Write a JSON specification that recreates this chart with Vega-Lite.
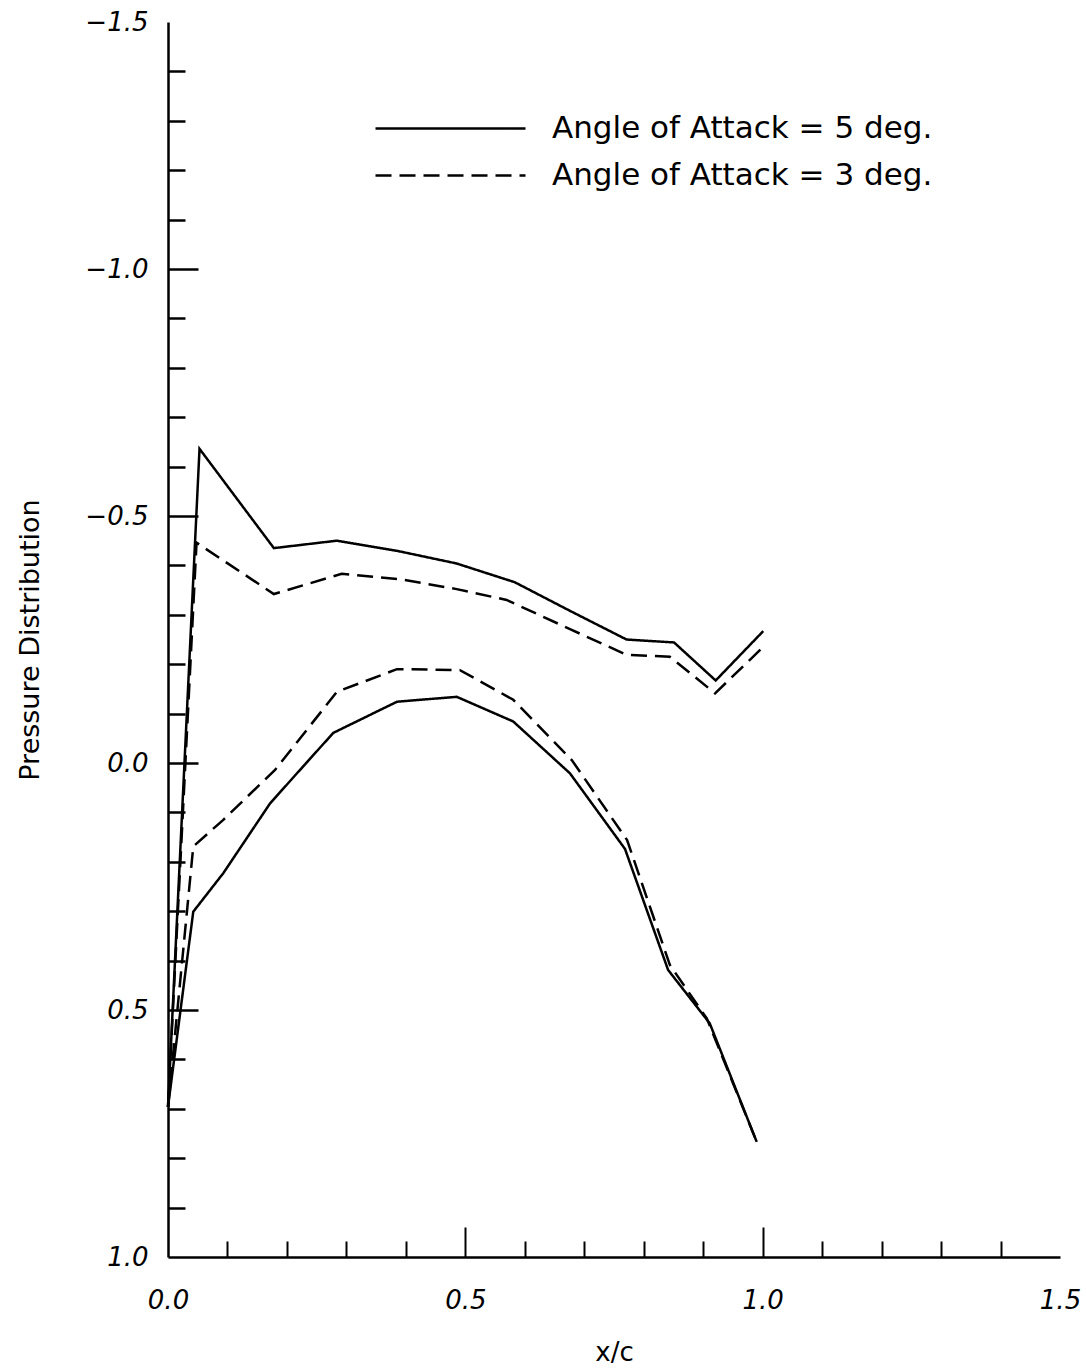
{
  "$schema": "https://vega.github.io/schema/vega-lite/v6.json",
  "width": 892,
  "height": 1235,
  "autosize": {"type": "none"},
  "padding": {"left": 168, "top": 22, "right": 26, "bottom": 114},
  "background": "white",
  "config": {"view": {"stroke": null}},
  "data": {"values": [
    {"aoa": "Angle of Attack = 5 deg.", "surf": "upper", "x": 0.0, "cp": 0.696},
    {"aoa": "Angle of Attack = 5 deg.", "surf": "upper", "x": 0.053, "cp": -0.636},
    {"aoa": "Angle of Attack = 5 deg.", "surf": "upper", "x": 0.178, "cp": -0.435},
    {"aoa": "Angle of Attack = 5 deg.", "surf": "upper", "x": 0.284, "cp": -0.450},
    {"aoa": "Angle of Attack = 5 deg.", "surf": "upper", "x": 0.387, "cp": -0.429},
    {"aoa": "Angle of Attack = 5 deg.", "surf": "upper", "x": 0.485, "cp": -0.404},
    {"aoa": "Angle of Attack = 5 deg.", "surf": "upper", "x": 0.583, "cp": -0.366},
    {"aoa": "Angle of Attack = 5 deg.", "surf": "upper", "x": 0.676, "cp": -0.308},
    {"aoa": "Angle of Attack = 5 deg.", "surf": "upper", "x": 0.771, "cp": -0.250},
    {"aoa": "Angle of Attack = 5 deg.", "surf": "upper", "x": 0.851, "cp": -0.244},
    {"aoa": "Angle of Attack = 5 deg.", "surf": "upper", "x": 0.921, "cp": -0.167},
    {"aoa": "Angle of Attack = 5 deg.", "surf": "upper", "x": 1.001, "cp": -0.267},
    {"aoa": "Angle of Attack = 5 deg.", "surf": "lower", "x": 0.0, "cp": 0.696},
    {"aoa": "Angle of Attack = 5 deg.", "surf": "lower", "x": 0.0425, "cp": 0.301},
    {"aoa": "Angle of Attack = 5 deg.", "surf": "lower", "x": 0.093, "cp": 0.223},
    {"aoa": "Angle of Attack = 5 deg.", "surf": "lower", "x": 0.1715, "cp": 0.082},
    {"aoa": "Angle of Attack = 5 deg.", "surf": "lower", "x": 0.219, "cp": 0.018},
    {"aoa": "Angle of Attack = 5 deg.", "surf": "lower", "x": 0.278, "cp": -0.061},
    {"aoa": "Angle of Attack = 5 deg.", "surf": "lower", "x": 0.385, "cp": -0.124},
    {"aoa": "Angle of Attack = 5 deg.", "surf": "lower", "x": 0.4855, "cp": -0.134},
    {"aoa": "Angle of Attack = 5 deg.", "surf": "lower", "x": 0.5806, "cp": -0.084},
    {"aoa": "Angle of Attack = 5 deg.", "surf": "lower", "x": 0.676, "cp": 0.021},
    {"aoa": "Angle of Attack = 5 deg.", "surf": "lower", "x": 0.7685, "cp": 0.174},
    {"aoa": "Angle of Attack = 5 deg.", "surf": "lower", "x": 0.841, "cp": 0.419},
    {"aoa": "Angle of Attack = 5 deg.", "surf": "lower", "x": 0.911, "cp": 0.527},
    {"aoa": "Angle of Attack = 5 deg.", "surf": "lower", "x": 0.990, "cp": 0.767},
    {"aoa": "Angle of Attack = 3 deg.", "surf": "upper", "x": 0.0, "cp": 0.696},
    {"aoa": "Angle of Attack = 3 deg.", "surf": "upper", "x": 0.048, "cp": -0.446},
    {"aoa": "Angle of Attack = 3 deg.", "surf": "upper", "x": 0.178, "cp": -0.342},
    {"aoa": "Angle of Attack = 3 deg.", "surf": "upper", "x": 0.292, "cp": -0.383},
    {"aoa": "Angle of Attack = 3 deg.", "surf": "upper", "x": 0.390, "cp": -0.372},
    {"aoa": "Angle of Attack = 3 deg.", "surf": "upper", "x": 0.4855, "cp": -0.352},
    {"aoa": "Angle of Attack = 3 deg.", "surf": "upper", "x": 0.5695, "cp": -0.330},
    {"aoa": "Angle of Attack = 3 deg.", "surf": "upper", "x": 0.676, "cp": -0.271},
    {"aoa": "Angle of Attack = 3 deg.", "surf": "upper", "x": 0.771, "cp": -0.219},
    {"aoa": "Angle of Attack = 3 deg.", "surf": "upper", "x": 0.844, "cp": -0.215},
    {"aoa": "Angle of Attack = 3 deg.", "surf": "upper", "x": 0.920, "cp": -0.141},
    {"aoa": "Angle of Attack = 3 deg.", "surf": "upper", "x": 1.001, "cp": -0.235},
    {"aoa": "Angle of Attack = 3 deg.", "surf": "lower", "x": 0.0, "cp": 0.696},
    {"aoa": "Angle of Attack = 3 deg.", "surf": "lower", "x": 0.0425, "cp": 0.169},
    {"aoa": "Angle of Attack = 3 deg.", "surf": "lower", "x": 0.093, "cp": 0.115},
    {"aoa": "Angle of Attack = 3 deg.", "surf": "lower", "x": 0.180, "cp": 0.014},
    {"aoa": "Angle of Attack = 3 deg.", "surf": "lower", "x": 0.284, "cp": -0.144},
    {"aoa": "Angle of Attack = 3 deg.", "surf": "lower", "x": 0.385, "cp": -0.190},
    {"aoa": "Angle of Attack = 3 deg.", "surf": "lower", "x": 0.491, "cp": -0.188},
    {"aoa": "Angle of Attack = 3 deg.", "surf": "lower", "x": 0.5806, "cp": -0.128},
    {"aoa": "Angle of Attack = 3 deg.", "surf": "lower", "x": 0.679, "cp": -0.006},
    {"aoa": "Angle of Attack = 3 deg.", "surf": "lower", "x": 0.772, "cp": 0.156},
    {"aoa": "Angle of Attack = 3 deg.", "surf": "lower", "x": 0.844, "cp": 0.409},
    {"aoa": "Angle of Attack = 3 deg.", "surf": "lower", "x": 0.906, "cp": 0.517},
    {"aoa": "Angle of Attack = 3 deg.", "surf": "lower", "x": 0.990, "cp": 0.767}
  ]},
  "resolve": {"axis": {"x": "independent", "y": "independent"}},
  "layer": [
    {
      "mark": {"type": "line", "color": "black", "strokeWidth": 2.5, "strokeCap": "butt"},
      "encoding": {
        "x": {"field": "x", "type": "quantitative",
          "scale": {"domain": [0, 1.5], "nice": false, "zero": false},
          "axis": {"orient": "bottom", "values": [0, 0.5, 1, 1.5], "format": ".1f",
            "ticks": false, "grid": false, "domain": true, "domainColor": "black", "domainWidth": 2.5,
            "labelFont": "DejaVu Sans", "labelFontStyle": "italic", "labelFontSize": 26, "labelColor": "black",
            "labelPadding": 30, "labelFlush": false, "labelOverlap": false,
            "title": "x/c", "titleFont": "DejaVu Sans", "titleFontWeight": "normal", "titleFontSize": 26,
            "titleColor": "black", "titlePadding": 26}},
        "y": {"field": "cp", "type": "quantitative",
          "scale": {"domain": [-1.5, 1], "nice": false, "zero": false, "reverse": true},
          "axis": {"orient": "left", "values": [-1.5, -1, -0.5, 0, 0.5, 1], "format": ".1f",
            "ticks": false, "grid": false, "domain": true, "domainColor": "black", "domainWidth": 2.5,
            "labelFont": "DejaVu Sans", "labelFontStyle": "italic", "labelFontSize": 26, "labelColor": "black",
            "labelPadding": 20, "labelFlush": false, "labelOverlap": false,
            "title": "Pressure Distribution", "titleFont": "DejaVu Sans", "titleFontWeight": "normal",
            "titleFontSize": 27, "titleColor": "black", "titlePadding": 40}},
        "detail": {"field": "surf"},
        "strokeDash": {"field": "aoa", "type": "nominal",
          "scale": {"domain": ["Angle of Attack = 5 deg.", "Angle of Attack = 3 deg."], "range": [[1, 0], [16, 8]]},
          "legend": {"orient": "none", "legendX": 267, "legendY": 91, "padding": 0, "title": null,
            "symbolType": "M-7.5,0H7.5", "symbolSize": 400, "symbolStrokeWidth": 2.5, "symbolStrokeColor": "black",
            "labelFont": "DejaVu Sans", "labelFontSize": 31, "labelColor": "black", "labelOffset": 86,
            "rowPadding": 15, "labelLimit": 0}}
      }
    },
    {
      "mark": {"type": "point", "opacity": 0},
      "encoding": {
        "x": {"field": "x", "type": "quantitative",
          "scale": {"domain": [0, 1.5], "nice": false, "zero": false},
          "axis": {"orient": "bottom", "values": [0.5, 1.0], "ticks": true, "tickSize": -30, "tickWidth": 2,
            "tickColor": "black", "labels": false, "domain": false, "grid": false, "title": null}},
        "y": {"field": "cp", "type": "quantitative",
          "scale": {"domain": [-1.5, 1], "nice": false, "zero": false, "reverse": true},
          "axis": {"orient": "left", "values": [-1, -0.5, 0, 0.5], "ticks": true, "tickSize": -30, "tickWidth": 2.5,
            "tickColor": "black", "labels": false, "domain": false, "grid": false, "title": null}}
      }
    },
    {
      "mark": {"type": "point", "opacity": 0},
      "encoding": {
        "x": {"field": "x", "type": "quantitative",
          "scale": {"domain": [0, 1.5], "nice": false, "zero": false},
          "axis": {"orient": "bottom", "values": [0.1, 0.2, 0.3, 0.4, 0.6, 0.7, 0.8, 0.9, 1.1, 1.2, 1.3, 1.4],
            "ticks": true, "tickSize": -16, "tickWidth": 2, "tickColor": "black", "labels": false,
            "domain": false, "grid": false, "title": null}},
        "y": {"field": "cp", "type": "quantitative",
          "scale": {"domain": [-1.5, 1], "nice": false, "zero": false, "reverse": true},
          "axis": {"orient": "left", "values": [-1.4, -1.3, -1.2, -1.1, -0.9, -0.8, -0.7, -0.6, -0.4, -0.3, -0.2, -0.1, 0.1, 0.2, 0.3, 0.4, 0.6, 0.7, 0.8, 0.9],
            "ticks": true, "tickSize": -17, "tickWidth": 2.5, "tickColor": "black", "labels": false,
            "domain": false, "grid": false, "title": null}}
      }
    }
  ]
}
